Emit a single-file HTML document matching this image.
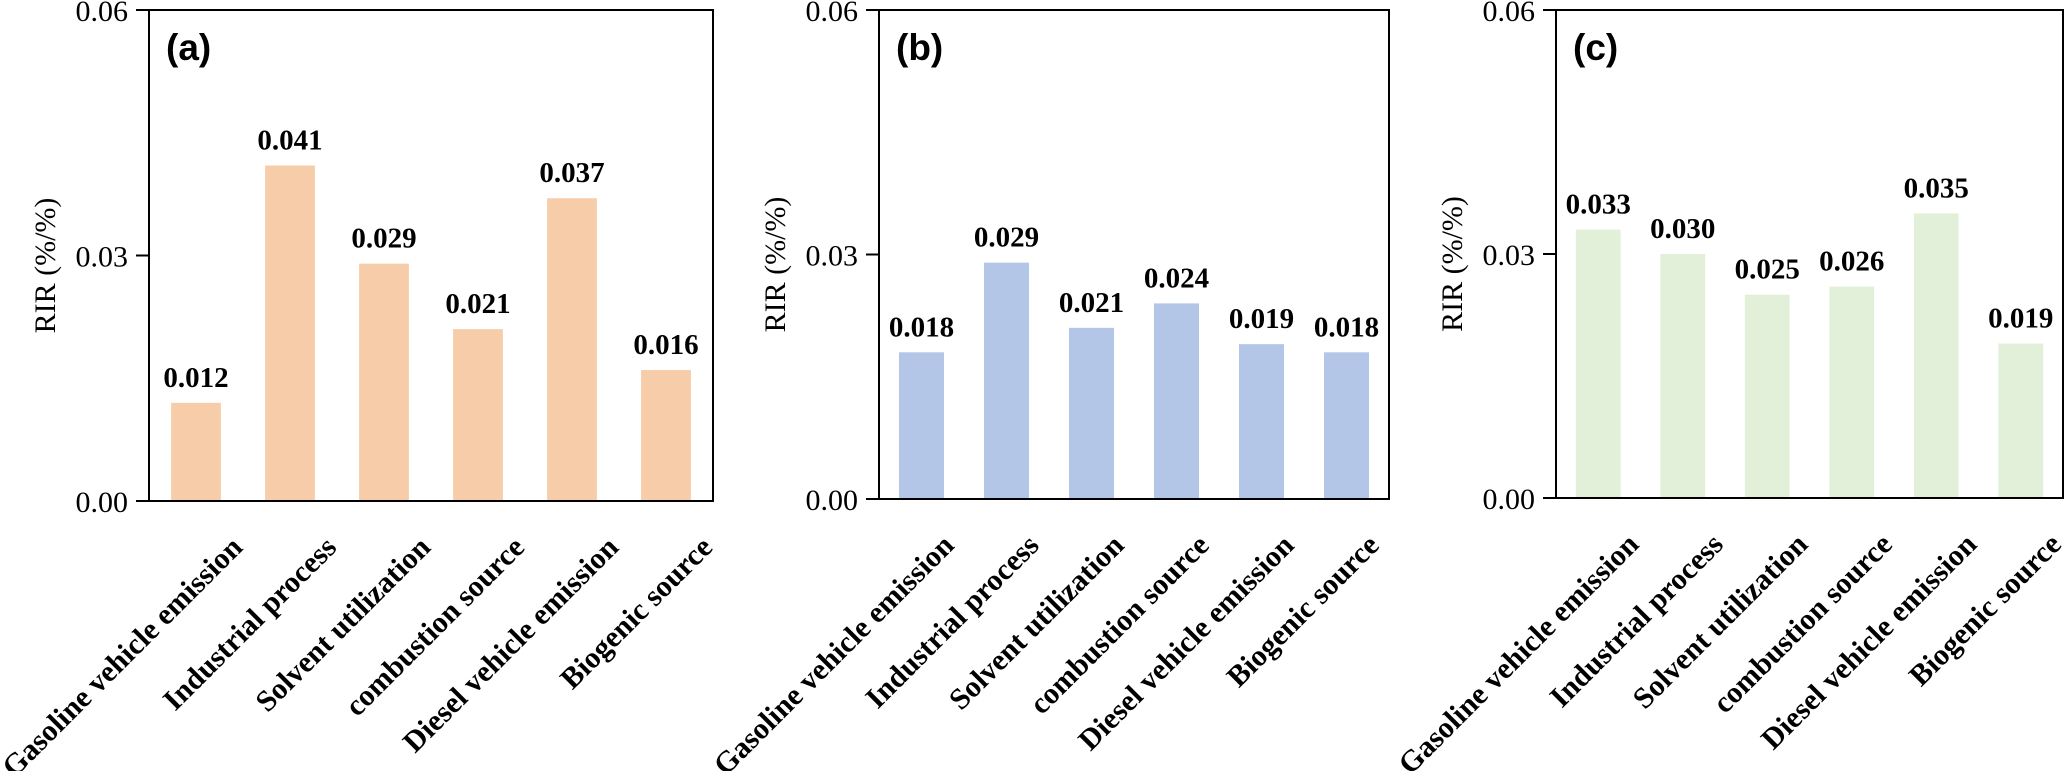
<!DOCTYPE html>
<html><head><meta charset="utf-8">
<style>
html,body{margin:0;padding:0;background:#fff;}
svg{display:block;}
text{font-family:"Liberation Serif",serif;fill:#000;}
</style></head>
<body>
<svg id="fig" width="2067" height="771" viewBox="0 0 2067 771" xmlns="http://www.w3.org/2000/svg"></svg>
<script>
const categories = ["Gasoline vehicle emission","Industrial process","Solvent utilization","combustion source","Diesel vehicle emission","Biogenic source"];
const valuesA = [0.012,0.041,0.029,0.021,0.037,0.016];
const valuesB = [0.018,0.029,0.021,0.024,0.019,0.018];
const valuesC = [0.033,0.030,0.025,0.026,0.035,0.019];
const valueLabelsA = ["0.012","0.041","0.029","0.021","0.037","0.016"];
const valueLabelsB = ["0.018","0.029","0.021","0.024","0.019","0.018"];
const valueLabelsC = ["0.033","0.030","0.025","0.026","0.035","0.019"];
const tickValues = [0, 0.03, 0.06];
const tickLabels = ["0.00","0.03","0.06"];
const yMax = 0.06;

const NS = "http://www.w3.org/2000/svg";
const svg = document.getElementById('fig');
function mk(tag, attrs, parent){
  const e = document.createElementNS(NS, tag);
  for (const k in attrs) e.setAttribute(k, attrs[k]);
  (parent||svg).appendChild(e);
  return e;
}
const panels = [
  {key:'a', left:149, right:713, top:10, bottom:501, vals:valuesA, labels:valueLabelsA, color:'#F7CDA9', tag:'(a)', lx:48},
  {key:'b', left:879, right:1389, top:10, bottom:499, vals:valuesB, labels:valueLabelsB, color:'#B4C6E8', tag:'(b)', lx:34},
  {key:'c', left:1556, right:2063, top:10, bottom:498, vals:valuesC, labels:valueLabelsC, color:'#E2F0D9', tag:'(c)', lx:42}
];
panels.forEach(p => {
  const g = mk('g', {});
  
  
  const y = v => p.bottom - (v / yMax) * (p.bottom - p.top);
  const step = (p.right - p.left) / categories.length;
  const x = i => p.left + (i + 0.5) * step;
  const bw = step * 0.53;
  p.vals.forEach((v, i) => {
    const r = mk('rect', {x: x(i) - bw/2, y: y(v), width: bw, height: p.bottom - y(v), fill: p.color}, g);
    
    
    const t = mk('text', {x: x(i), y: y(v) - 16, 'text-anchor':'middle', 'font-size':29, 'font-weight':'bold'}, g);
    t.textContent = p.labels[i];
    
    
    const cx = x(i) + p.lx, cy = p.bottom + 48;
    const xl = mk('text', {x: cx, y: cy, 'text-anchor':'end', 'font-size':30, 'font-weight':'bold', transform:'rotate(-45 ' + cx + ' ' + cy + ')'}, g);
    xl.textContent = categories[i];
    
    
  });
  const f = mk('rect', {x: p.left, y: p.top, width: p.right - p.left, height: p.bottom - p.top, fill:'none', stroke:'#000', 'stroke-width':2}, g);
  
  
  tickValues.forEach((tv, k) => {
    const ty = y(tv);
    const tl = mk('line', {x1: p.left - 13, x2: p.left, y1: ty, y2: ty, stroke:'#000', 'stroke-width':2}, g);
    
    
    const tt = mk('text', {x: p.left - 21, y: ty + 11, 'text-anchor':'end', 'font-size':30}, g);
    tt.textContent = tickLabels[k];
    
    
  });
  const ym = (p.top + p.bottom) / 2 + 10, yx = p.left - 94;
  const yt = mk('text', {x: yx, y: ym, 'text-anchor':'middle', 'font-size':30, transform:'rotate(-90 ' + yx + ' ' + ym + ')'}, g);
  yt.textContent = 'RIR (%/%)';
  
  
  const pt = mk('text', {x: p.left + 17, y: 60, 'font-size':37, 'font-weight':'bold', style:'font-family:"Liberation Sans",sans-serif'}, g);
  pt.textContent = p.tag;
  
  
});
</script>
</body></html>
